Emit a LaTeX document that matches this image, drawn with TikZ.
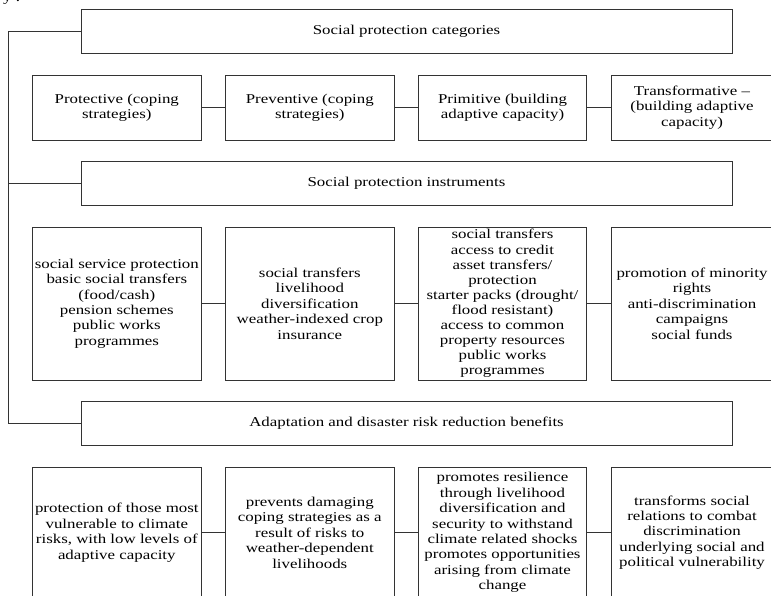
\documentclass[tikz,border=0pt]{standalone}
\usepackage{fontspec}
\setmainfont{Liberation Serif}[FakeStretch=1.25]
\begin{document}
\begin{tikzpicture}[x=1pt,y=-1pt,
  box/.style={draw=black!80, line width=0.8pt, align=center, inner sep=0pt,
    font=\fontsize{13.5}{15.4}\selectfont},
  head/.style={box, minimum width=651pt, minimum height=44pt},
  rowa/.style={box, minimum height=65pt},
  rowb/.style={box, minimum height=152.7pt},
  rowc/.style={box, minimum height=130.7pt},
  link/.style={draw=black!80, line width=0.8pt},
  frag/.style={inner sep=0pt, anchor=base west, font=\fontsize{13.5}{15.4}\selectfont}]
\useasboundingbox (0,0) rectangle (771,595);
\node[frag] (fragment) at (3,1.5) {y .};
% headers
\node[head] (h1) at (406.5,31) {Social protection categories};
\node[head] (h2) at (406.5,183.6) {Social protection instruments};
\node[head] (h3) at (406.5,423.3) {Adaptation and disaster risk reduction benefits};
% row 1
\node[rowa, minimum width=169pt] (a1) at (116.8,107.5) {Protective (coping\\strategies)};
\node[rowa, minimum width=169pt] (a2) at (309.8,107.5) {Preventive (coping\\strategies)};
\node[rowa, minimum width=168.4pt] (a3) at (502.5,107.5) {Primitive (building\\adaptive capacity)};
\node[rowa, minimum width=162pt] (a4) at (692,107.5) {Transformative --\\(building adaptive\\capacity)};
% row 2
\node[rowb, minimum width=169pt] (b1) at (116.8,303.6) {social service protection\\basic social transfers\\(food/cash)\\pension schemes\\public works\\programmes};
\node[rowb, minimum width=169pt] (b2) at (309.8,303.6) {social transfers\\livelihood\\diversification\\weather-indexed crop\\insurance};
\node[rowb, minimum width=168.4pt, font=\fontsize{13.5}{15.1}\selectfont] (b3) at (502.5,303.6) {social transfers\\access to credit\\asset transfers/\\protection\\starter packs (drought/\\flood resistant)\\access to common\\property resources\\public works\\programmes};
\node[rowb, minimum width=162pt] (b4) at (692,303.6) {promotion of minority\\rights\\anti-discrimination\\campaigns\\social funds};
% row 3
\node[rowc, minimum width=169pt] (c1) at (116.8,532.6) {protection of those most\\vulnerable to climate\\risks, with low levels of\\adaptive capacity};
\node[rowc, minimum width=169pt] (c2) at (309.8,532.6) {prevents damaging\\coping strategies as a\\result of risks to\\weather-dependent\\livelihoods};
\node[rowc, minimum width=168.4pt] (c3) at (502.5,532.6) {promotes resilience\\through livelihood\\diversification and\\security to withstand\\climate related shocks\\promotes opportunities\\arising from climate\\change};
\node[rowc, minimum width=162pt] (c4) at (692,532.6) {transforms social\\relations to combat\\discrimination\\underlying social and\\political vulnerability};
% left spine
\coordinate (lb) at (8.3,423.3);
\draw[link] (h1.west) -| (lb) -- (h3.west);
\draw[link] (h2.west) -- (h2.west -| lb);
% row connectors
\draw[link] (a1.east) -- (a2.west);
\draw[link] (a2.east) -- (a3.west);
\draw[link] (a3.east) -- (a4.west);
\draw[link] (b1.east) -- (b2.west);
\draw[link] (b2.east) -- (b3.west);
\draw[link] (b3.east) -- (b4.west);
\draw[link] (c1.east) -- (c2.west);
\draw[link] (c2.east) -- (c3.west);
\draw[link] (c3.east) -- (c4.west);
\end{tikzpicture}
\end{document}
